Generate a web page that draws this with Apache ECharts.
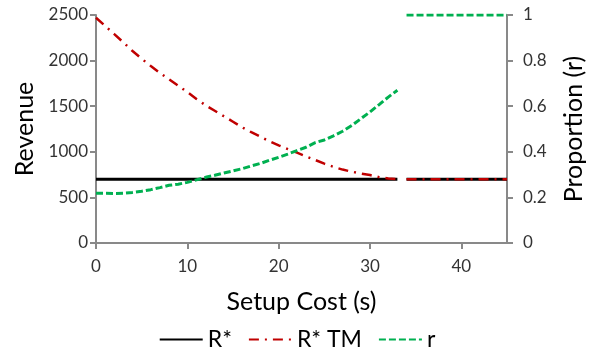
<!DOCTYPE html>
<html><head><meta charset="utf-8">
<script src="https://cdn.jsdelivr.net/npm/echarts@6/dist/echarts.min.js"></script>
<style>html,body{margin:0;padding:0;background:#fff}#c{width:594px;height:356px}</style>
</head><body><div id="c"></div>
<script>
// Setup cost values (s); null row marks the break between s=33 and s=34
const setupCost = [0,1,2,3,4,5,6,7,8,9,10,11,12,13,14,15,16,17,18,19,20,21,22,23,24,25,26,27,28,29,30,31,32,33,33.5,34,35,36,37,38,39,40,41,42,43,44,45];
const rStar = [700,700,700,700,700,700,700,700,700,700,700,700,700,700,700,700,700,700,700,700,700,700,700,700,700,700,700,700,700,700,700,700,700,700,null,700,700,700,700,700,700,700,700,700,700,700,700];
const rStarTM = [2470,2380,2290,2200,2105,2020,1940,1865,1795,1725,1655,1580,1510,1450,1390,1330,1268,1215,1165,1115,1070,1030,990,950,910,870,835,805,782,762,745,722,708,700,null,700,700,700,700,700,700,700,700,700,700,700,700];
const rProp = [0.218,0.218,0.217,0.218,0.222,0.227,0.234,0.243,0.253,0.258,0.266,0.277,0.288,0.297,0.307,0.316,0.326,0.338,0.349,0.363,0.376,0.39,0.405,0.42,0.44,0.452,0.47,0.49,0.515,0.545,0.575,0.607,0.64,0.67,null,1,1,1,1,1,1,1,1,1,1,1,1];
const leftTicks = [0,500,1000,1500,2000,2500];
const rightTicks = [0,0.2,0.4,0.6,0.8,1];
const xTicks = [0,10,20,30,40];

const pair = arr => setupCost.map((s,i)=>[s, arr[i]]);
const FONT = 'Lato';
const axisGray = '#898989';

const chart = echarts.init(document.getElementById('c'), null, {renderer:'canvas'});
chart.setOption({
  animation:false,
  textStyle:{fontFamily:FONT},
  grid:{left:96, right:83, top:15, bottom:113},
  legend:{
    bottom:0, left:'center', itemWidth:43, itemHeight:12, itemGap:16,
    itemStyle:{opacity:0},
    textStyle:{fontFamily:FONT, fontSize:23, color:'#000'},
    data:['R*','R* TM','r']
  },
  xAxis:{
    type:'value', min:0, max:45, interval:10,
    name:'Setup Cost (s)', nameLocation:'middle', nameGap:46,
    nameTextStyle:{fontFamily:FONT, fontSize:25, color:'#000'},
    axisLine:{lineStyle:{color:axisGray, width:2}},
    axisTick:{show:true, inside:false, length:6, lineStyle:{color:axisGray, width:2}},
    axisLabel:{fontSize:17, color:'#333', margin:15, showMaxLabel:false,
      formatter:v=> xTicks.includes(v)? String(v):''},
    splitLine:{show:false}
  },
  yAxis:[{
    type:'value', min:0, max:2500, interval:500, position:'left',
    name:'Revenue', nameLocation:'middle', nameGap:58, nameRotate:90,
    nameTextStyle:{fontFamily:FONT, fontSize:25, color:'#000'},
    axisLine:{show:true, lineStyle:{color:axisGray, width:2}},
    axisTick:{show:true, length:6, lineStyle:{color:axisGray, width:2}},
    axisLabel:{fontSize:17, color:'#333', margin:8, formatter:v=>leftTicks.includes(v)?String(v):''},
    splitLine:{show:false}
  },{
    type:'value', min:0, max:1, interval:0.2, position:'right',
    name:'Proportion (r)', nameLocation:'middle', nameGap:54, nameRotate:90,
    nameTextStyle:{fontFamily:FONT, fontSize:25, color:'#000'},
    axisLine:{show:true, lineStyle:{color:axisGray, width:2}},
    axisTick:{show:true, length:6, lineStyle:{color:axisGray, width:2}},
    axisLabel:{fontSize:17, color:'#333', margin:16,
      formatter:v=>{const r=Math.round(v*10)/10; return rightTicks.includes(r)?String(r):'';}},
    splitLine:{show:false}
  }],
  series:[
    {name:'R*', type:'line', yAxisIndex:0, data:pair(rStar), showSymbol:false, symbol:'none',
      connectNulls:false, lineStyle:{color:'#000', width:3, type:'solid'}, itemStyle:{color:'#000'}},
    {name:'R* TM', type:'line', yAxisIndex:0, data:pair(rStarTM), showSymbol:false, symbol:'none',
      connectNulls:false, lineStyle:{color:'#C00000', width:2.5, type:[10,6,2,6]}, itemStyle:{color:'#C00000'}},
    {name:'r', type:'line', yAxisIndex:1, data:pair(rProp), showSymbol:false, symbol:'none',
      connectNulls:false, lineStyle:{color:'#00B050', width:3, type:[7,3]}, itemStyle:{color:'#00B050'}}
  ]
});
</script></body></html>
